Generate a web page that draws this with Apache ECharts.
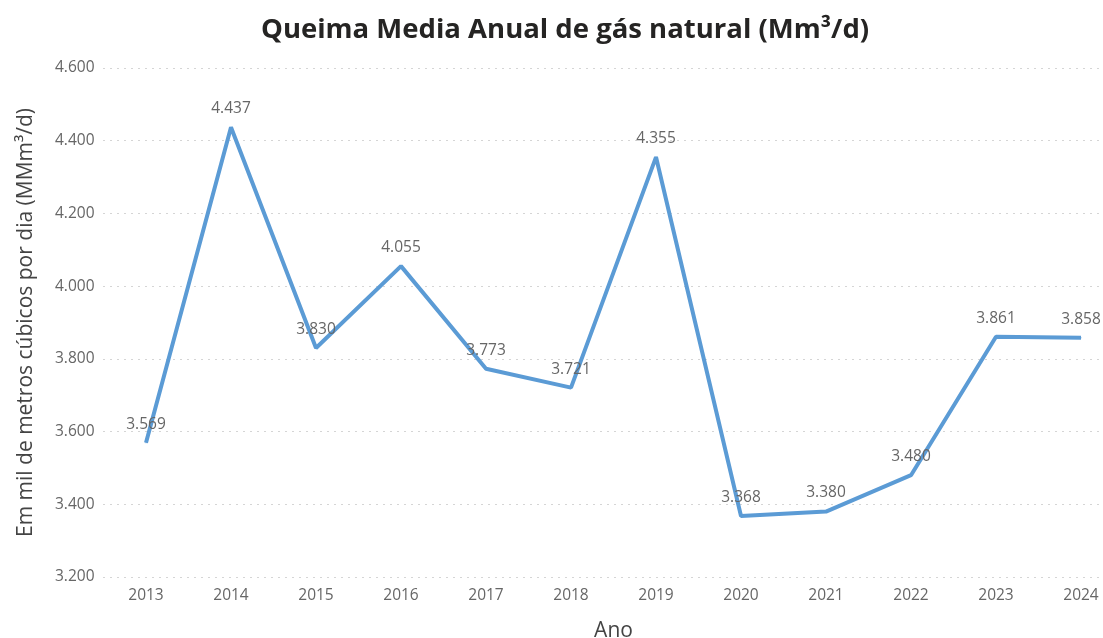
<!DOCTYPE html>
<html>
<head>
<meta charset="utf-8">
<script src="https://cdn.jsdelivr.net/npm/echarts@6/dist/echarts.min.js"></script>
<style>
  html, body { margin: 0; padding: 0; background: #fff; }
  #chart { width: 1103px; height: 638px; }
</style>
</head>
<body>
<div id="chart"></div>
<script>
const anos = ["2013", "2014", "2015", "2016", "2017", "2018", "2019", "2020", "2021", "2022", "2023", "2024"];
const queima = [3569, 4437, 3830, 4055, 3773, 3721, 4355, 3368, 3380, 3480, 3861, 3858];

// 3200 -> "3.200"
const fmt = (v) => String(v).replace(/\B(?=(\d{3})+$)/g, ".");

const chart = echarts.init(document.getElementById("chart"));

const option = {
  title: {
    text: "Queima Media Anual de gás natural (Mm³/d)",
    left: 256,
    top: 11,
    textStyle: {
      fontFamily: "Open Sans",
      fontSize: 27.5,
      fontWeight: "bold",
      color: "#252423",
    },
  },
  grid: {
    top: 68,
    bottom: 61,
    left: 103.5,
    width: 1020,
    containLabel: false,
    outerBoundsMode: "none",
  },
  xAxis: {
    type: "category",
    data: anos,
    boundaryGap: true,
    name: "Ano",
    nameLocation: "middle",
    nameGap: 44,
    nameTextStyle: { fontFamily: "Open Sans", fontSize: 21, color: "#444" },
    axisLine: { show: false },
    axisTick: { show: false },
    axisLabel: { fontFamily: "Open Sans", fontSize: 15.5, color: "#666", margin: 11 },
  },
  yAxis: {
    type: "value",
    min: 3200,
    max: 4600,
    interval: 200,
    name: "Em mil de metros cúbicos por dia (MMm³/d)",
    nameLocation: "middle",
    nameGap: 67,
    nameTextStyle: { fontFamily: "Open Sans", fontSize: 21, color: "#444" },
    axisLine: { show: false },
    axisTick: { show: false },
    axisLabel: {
      fontFamily: "Open Sans",
      fontSize: 15.5,
      color: "#666",
      margin: 9,
      formatter: fmt,
    },
    splitLine: {
      show: true,
      lineStyle: { type: [1, 6], color: "#aaa", width: 1 },
    },
  },
  series: [
    {
      type: "line",
      data: queima,
      symbol: "circle",
      symbolSize: 1,
      showSymbol: true,
      itemStyle: { color: "#5B9BD5" },
      lineStyle: { color: "#5B9BD5", width: 4 },
      label: {
        show: true,
        position: "top",
        distance: 10,
        fontFamily: "Open Sans",
        fontSize: 15.5,
        color: "#666",
        formatter: (p) => fmt(p.value),
      },
    },
  ],
};

chart.setOption(option);
</script>
</body>
</html>
